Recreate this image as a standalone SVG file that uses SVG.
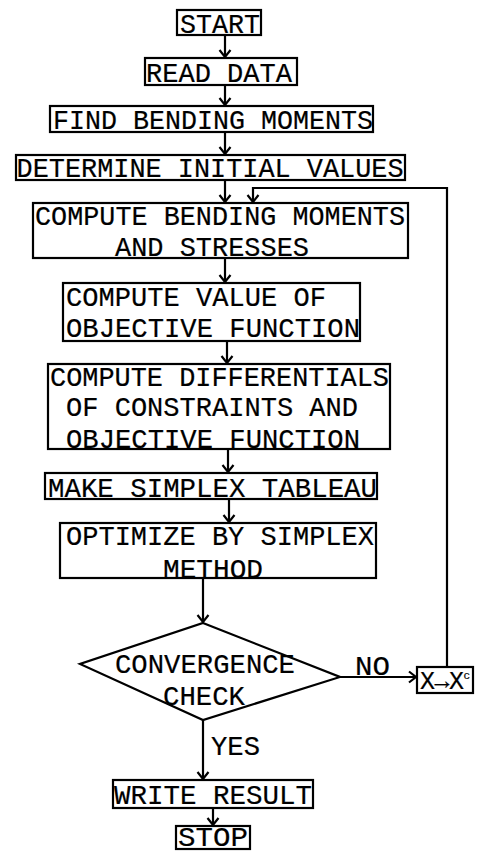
<svg xmlns="http://www.w3.org/2000/svg" width="481" height="855" viewBox="0 0 481 855">
<style>
.b{fill:#fff;stroke:#000;stroke-width:2.2}
.t{font-family:"Liberation Mono","Courier New",monospace;font-size:28px;fill:#000;stroke:#000;stroke-width:0.2}
.c{fill:none;stroke:#000;stroke-width:2.2}
</style>
<defs>
<marker id="ah" markerUnits="userSpaceOnUse" markerWidth="14" markerHeight="14" viewBox="-8 -7 10 14" refX="0" refY="0" orient="auto">
<path d="M-7,-5.5 L0,0 L-7,5.5" fill="none" stroke="#000" stroke-width="2.2"/>
</marker>
</defs>
<g id="connectors">
<line class="c" x1="225" y1="35" x2="225" y2="57" marker-end="url(#ah)"/>
<line class="c" x1="225" y1="85" x2="225" y2="105" marker-end="url(#ah)"/>
<line class="c" x1="225" y1="132" x2="225" y2="154" marker-end="url(#ah)"/>
<line class="c" x1="225" y1="180" x2="225" y2="202" marker-end="url(#ah)"/>
<line class="c" x1="225" y1="258" x2="225" y2="282" marker-end="url(#ah)"/>
<line class="c" x1="227" y1="341" x2="227" y2="363" marker-end="url(#ah)"/>
<line class="c" x1="228" y1="449" x2="228" y2="472" marker-end="url(#ah)"/>
<line class="c" x1="229" y1="499" x2="229" y2="522" marker-end="url(#ah)"/>
<line class="c" x1="203" y1="578" x2="203" y2="622" marker-end="url(#ah)"/>
<line class="c" x1="203" y1="720" x2="203" y2="779" marker-end="url(#ah)"/>
<line class="c" x1="213" y1="808" x2="213" y2="825" marker-end="url(#ah)"/>
<line class="c" x1="340" y1="677" x2="416" y2="677" marker-end="url(#ah)"/>
<polyline class="c" points="447,667 447,188 253,188 253,202" marker-end="url(#ah)"/>
</g>
<g id="start"><rect class="b" x="177" y="10" width="84" height="25"/><text class="t" x="180" y="33" textLength="80" lengthAdjust="spacingAndGlyphs">START</text></g>
<g id="read"><rect class="b" x="145" y="58" width="152" height="27"/><text class="t" x="146" y="82" textLength="146" lengthAdjust="spacingAndGlyphs">READ DATA</text></g>
<g id="find"><rect class="b" x="50" y="106" width="323" height="26"/><text class="t" x="53" y="129" textLength="320" lengthAdjust="spacingAndGlyphs">FIND BENDING MOMENTS</text></g>
<g id="determine"><rect class="b" x="16" y="155" width="389" height="25"/><text class="t" x="16.5" y="177" textLength="387" lengthAdjust="spacingAndGlyphs">DETERMINE INITIAL VALUES</text></g>
<g id="computeBending"><rect class="b" x="33" y="203" width="375" height="55"/><text class="t" x="35" y="225" textLength="370" lengthAdjust="spacingAndGlyphs">COMPUTE BENDING MOMENTS</text><text class="t" x="115" y="256" textLength="194" lengthAdjust="spacingAndGlyphs">AND STRESSES</text></g>
<g id="computeValue"><rect class="b" x="63" y="283" width="297" height="58"/><text class="t" x="66" y="306" textLength="260" lengthAdjust="spacingAndGlyphs">COMPUTE VALUE OF</text><text class="t" x="66" y="337" textLength="294" lengthAdjust="spacingAndGlyphs">OBJECTIVE FUNCTION</text></g>
<g id="computeDiff"><rect class="b" x="48" y="364" width="342" height="85"/><text class="t" x="50" y="386" textLength="339" lengthAdjust="spacingAndGlyphs">COMPUTE DIFFERENTIALS</text><text class="t" x="66" y="416" textLength="292" lengthAdjust="spacingAndGlyphs">OF CONSTRAINTS AND</text><text class="t" x="66" y="448" textLength="294" lengthAdjust="spacingAndGlyphs">OBJECTIVE FUNCTION</text></g>
<g id="makeSimplex"><rect class="b" x="45" y="473" width="332" height="26"/><text class="t" x="48" y="497" textLength="329" lengthAdjust="spacingAndGlyphs">MAKE SIMPLEX TABLEAU</text></g>
<g id="optimize"><rect class="b" x="60" y="523" width="316" height="55"/><text class="t" x="66" y="545" textLength="308" lengthAdjust="spacingAndGlyphs">OPTIMIZE BY SIMPLEX</text><text class="t" x="163" y="578" textLength="100" lengthAdjust="spacingAndGlyphs">METHOD</text></g>
<g id="convergence"><polygon class="b" points="203,623 340,677 203,720 80,664"/><text class="t" x="115" y="673" textLength="180" lengthAdjust="spacingAndGlyphs">CONVERGENCE</text><text class="t" x="163" y="705" textLength="82" lengthAdjust="spacingAndGlyphs">CHECK</text></g>
<g id="labels"><text class="t" x="355" y="675" textLength="35" lengthAdjust="spacingAndGlyphs">NO</text><text class="t" x="211" y="755" textLength="49" lengthAdjust="spacingAndGlyphs">YES</text></g>
<g id="update"><rect class="b" x="417" y="667" width="56" height="26"/><text class="t" x="420" y="689" style="font-size:25px;letter-spacing:-0.5px">X→X<tspan style="font-size:11px" dy="-10">c</tspan></text></g>
<g id="write"><rect class="b" x="113" y="780" width="200" height="28"/><text class="t" x="114" y="804" textLength="198" lengthAdjust="spacingAndGlyphs">WRITE RESULT</text></g>
<g id="stop"><rect class="b" x="176" y="826" width="74" height="23"/><text class="t" x="178" y="846" textLength="70" lengthAdjust="spacingAndGlyphs">STOP</text></g>
</svg>
